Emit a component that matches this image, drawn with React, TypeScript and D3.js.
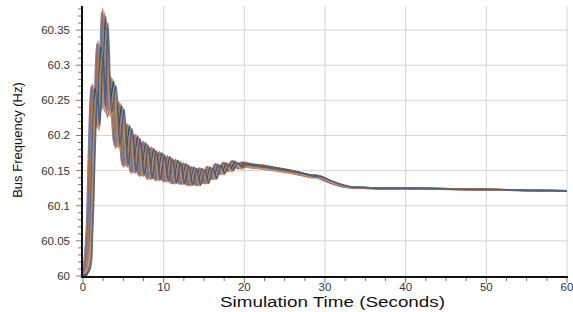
import React from "react";
import * as d3 from "d3";

// Base trajectory (time in s, frequency in Hz)
const times = [
  0, 0.4, 0.7, 1.0, 1.3, 1.7, 2.0, 2.3, 2.8, 3.3, 3.8, 4.3, 4.8, 5.3, 5.8, 6.3, 6.8, 7.3, 7.8,
  8.3, 8.8, 9.3, 9.8, 10.3, 10.8, 11.3, 11.8, 12.3, 12.8, 13.3, 13.8, 14.3, 14.8, 15.3, 15.8,
  16.3, 16.8, 17.3, 17.8, 18.4, 19.0, 19.5, 20.5, 22, 24, 25.5, 27, 28, 28.7, 29.5, 30.5,
  31.5, 32.5, 34, 36, 40, 45, 50, 55, 60,
];
const values = [
  60.0, 60.06, 60.18, 60.27, 60.22, 60.33, 60.25, 60.375, 60.24, 60.28, 60.19, 60.245, 60.16,
  60.215, 60.15, 60.2, 60.145, 60.19, 60.14, 60.182, 60.138, 60.176, 60.136, 60.17, 60.133,
  60.165, 60.132, 60.16, 60.13, 60.155, 60.13, 60.153, 60.133, 60.155, 60.14, 60.159, 60.148,
  60.161, 60.153, 60.163, 60.157, 60.161, 60.159, 60.157, 60.153, 60.15, 60.146, 60.143,
  60.143, 60.139, 60.134, 60.13, 60.127, 60.126, 60.125, 60.125, 60.124, 60.123, 60.122, 60.121,
];
// Per-run spread: start lag (s) and swing gain
const lags = [0, 0.08, 0.15, 0.22, 0.3, 0.36, 0.42, 0.5, 0.56, 0.63, 0.7, 0.78];
const gains = [1.0, 0.93, 1.02, 0.88, 0.97, 1.0, 0.91, 0.98, 0.9, 0.95, 0.87, 0.94];
const colors = [
  "#4f6fa8", "#d9773a", "#c0504d", "#7a6a9a", "#4b9cb6", "#8a8f5a",
  "#7f7f7f", "#26406e", "#d98e84", "#a88a54", "#e08a3c", "#3b5b8a",
];

const xTicks = [0, 10, 20, 30, 40, 50, 60];
const yTicks = [60, 60.05, 60.1, 60.15, 60.2, 60.25, 60.3, 60.35];
const yTickLabels = ["60", "60.05", "60.1", "60.15", "60.2", "60.25", "60.3", "60.35"];

export default function App() {
  const W = 573, H = 312;
  const left = 83, right = 567, top = 9, bottom = 276;
  const x = d3.scaleLinear().domain([0, 60]).range([left, right]);
  const y = d3.scaleLinear().domain([60, 60.38]).range([bottom, top]);
  const line = d3
    .line<[number, number]>()
    .x((d) => x(d[0]))
    .y((d) => y(d[1]))
    .curve(d3.curveCatmullRom.alpha(0.5));

  const series = lags.map((lag, i) => {
    const pts: [number, number][] = [[0, 60]];
    times.forEach((t, j) => {
      const tt = t + lag;
      if (tt <= 60 && (j > 0 || lag > 0)) pts.push([tt, 60.12 + (values[j] - 60.12) * gains[i]]);
    });
    if (pts[pts.length - 1][0] < 60) pts.push([60, 60.12 + (values[values.length - 1] - 60.12) * gains[i]]);
    return pts;
  });

  const yMinor = d3.range(0, 39).map((k) => 60 + k * 0.01);
  const xMinor = d3.range(0, 25).map((k) => k * 2.5);
  const font = "Liberation Sans, Arial, sans-serif";

  return (
    <svg width={W} height={H} style={{ position: "absolute", left: 0, top: 0, background: "#fff" }}>
      <defs>
        <clipPath id="plot">
          <rect x={left} y={top - 1} width={right - left} height={bottom - top + 1} />
        </clipPath>
      </defs>
      {/* grid */}
      {yTicks.slice(1).map((v) => (
        <line key={"gy" + v} x1={left} x2={right} y1={y(v)} y2={y(v)} stroke="#d4d4d4" strokeWidth={1} />
      ))}
      {xTicks.slice(1).map((v) => (
        <line key={"gx" + v} x1={x(v)} x2={x(v)} y1={top - 3} y2={bottom} stroke="#d4d4d4" strokeWidth={1} />
      ))}
      {/* data */}
      <g clipPath="url(#plot)">
        {series.map((pts, i) => (
          <path key={i} d={line(pts) || ""} fill="none" stroke={colors[i]} strokeWidth={1.8} strokeOpacity={0.85} />
        ))}
      </g>
      {/* axes */}
      <line x1={left - 1} x2={left - 1} y1={top - 3} y2={bottom + 1} stroke="#111" strokeWidth={2} />
      <line x1={left - 2} x2={right + 1} y1={bottom + 1} y2={bottom + 1} stroke="#111" strokeWidth={2} />
      {yMinor.map((v, k) => (
        <line key={"ym" + k} x1={left - 2 - (k % 5 === 0 ? 5 : 3)} x2={left - 2} y1={y(v)} y2={y(v)} stroke="#555" strokeWidth={0.8} />
      ))}
      {xMinor.map((v, k) => (
        <line key={"xm" + k} x1={x(v)} x2={x(v)} y1={bottom + 2} y2={bottom + 2 + (k % 4 === 0 ? 5 : 3)} stroke="#555" strokeWidth={0.8} />
      ))}
      {yTicks.map((v, i) => (
        <text key={"yl" + v} x={70} y={y(v)} dy="0.35em" textAnchor="end" fontFamily={font} fontSize={11.5} fill="#333">
          {yTickLabels[i]}
        </text>
      ))}
      {xTicks.map((v) => (
        <text key={"xl" + v} x={x(v)} y={291} textAnchor="middle" fontFamily={font} fontSize={11.5} fill="#333">
          {v}
        </text>
      ))}
      <text x={220} y={307} textLength={225} lengthAdjust="spacingAndGlyphs" fontFamily={font} fontSize={15.5} fill="#111">
        Simulation Time (Seconds)
      </text>
      <text transform="translate(22,140) rotate(-90)" textAnchor="middle" fontFamily={font} fontSize={13} fill="#111">
        Bus Frequency (Hz)
      </text>
    </svg>
  );
}
